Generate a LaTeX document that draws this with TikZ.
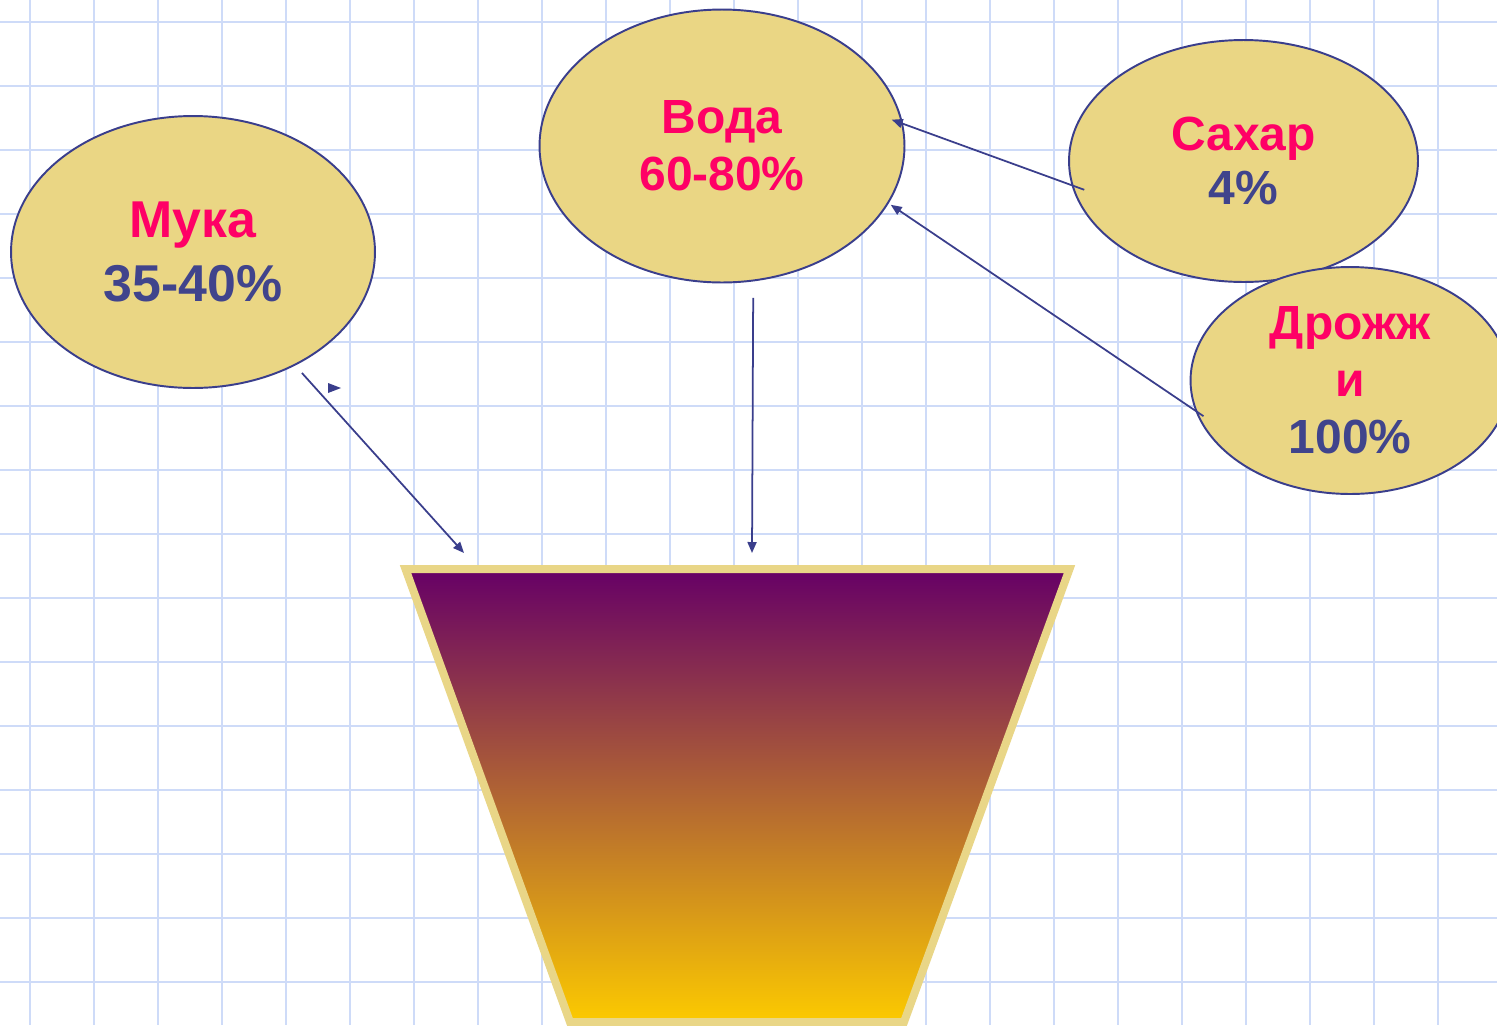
\documentclass[tikz,border=0pt]{standalone}
\usepackage{fontspec}
\setmainfont{Liberation Sans}
\usepackage{xcolor}
\usetikzlibrary{arrows.meta}
\usetikzlibrary{shapes.geometric}
\usetikzlibrary{math}

\definecolor{gridblue}{RGB}{206,219,248}
\definecolor{ovalfill}{RGB}{234,214,132}
\definecolor{inkblue}{RGB}{58,62,140}
\definecolor{pinkred}{RGB}{255,0,102}
\definecolor{numblue}{RGB}{64,68,140}
\definecolor{potrim}{RGB}{233,214,135}
\definecolor{pottop}{RGB}{102,0,102}
\definecolor{potbottom}{RGB}{252,202,0}

\begin{document}
\begin{tikzpicture}[x=0.02cm, y=-0.02cm,
  gridline/.style={draw=gridblue, line width=0.04cm},
  oval/.style={ellipse, draw=inkblue, fill=ovalfill, line width=1.1pt, inner sep=0pt, align=center, font=\bfseries},
  arr/.style={-{Triangle[length=0.22cm,width=0.18cm]}, draw=inkblue, line width=1pt}]
\tikzmath{
\W=1497;
\H=1025;
}
\useasboundingbox (0,0) rectangle (\W,\H);
\fill[white] (0,0) rectangle (\W,\H);

 %grid:
 \foreach \gx in {30,94,...,1438} \draw[gridline] (\gx,0) -- (\gx,\H);
 \foreach \gy in {22,86,...,982} \draw[gridline] (0,\gy) -- (\W,\gy);

 %pot:
 \coordinate (potTL) at (405.5,569);
 \coordinate (potTR) at (1069.5,569);
 \coordinate (potBR) at (904,1022);
 \coordinate (potBL) at (570,1022);
 \shadedraw[top color=pottop, bottom color=potbottom, draw=potrim, line width=0.16cm] (potTL) -- (potTR) -- (potBR) -- (potBL) -- cycle;
 \coordinate (potin1) at (464,553);
 \coordinate (potin2) at (752,553);

 %ovals:
 \node[oval, minimum width=7.28cm, minimum height=5.44cm, font=\bfseries\fontsize{29.5}{36}\selectfont] (muka) at (193,252)
   {\color{pinkred}Мука\\\color{numblue}35-40\%};
 \node[oval, minimum width=7.3cm, minimum height=5.46cm, font=\bfseries\fontsize{27.3}{32.5}\selectfont] (voda) at (722,146)
   {\color{pinkred}Вода\\\color{pinkred}60-80\%};
 \node[oval, minimum width=6.98cm, minimum height=4.84cm, font=\bfseries\fontsize{27.3}{31}\selectfont] (sahar) at (1243.5,161)
   {\color{pinkred}Сахар\\\color{numblue}4\%};
 \node[oval, minimum width=6.38cm, minimum height=4.54cm, font=\bfseries\fontsize{27.3}{32.5}\selectfont] (drozh) at (1350,380.5)
   {\color{pinkred}Дрожж\\\color{pinkred}и\\\color{numblue}100\%};

 %arrows:
 \draw[arr, shorten <=0.2cm] (muka.-48.6) -- (potin1);
 \draw[arr, shorten <=0.33cm] (voda.-77.4) -- (potin2);
 \draw[arr, shorten <=-0.27cm, shorten >=-0.24cm] (sahar.188.4) -- (voda.7.8);
 \draw[arr, shorten <=-0.2cm, shorten >=0.05cm] (drozh.191.4) -- (voda.-19.8);
 \fill[inkblue] (328,383) -- (341,388) -- (328,393) -- cycle;
\end{tikzpicture}
\end{document}
